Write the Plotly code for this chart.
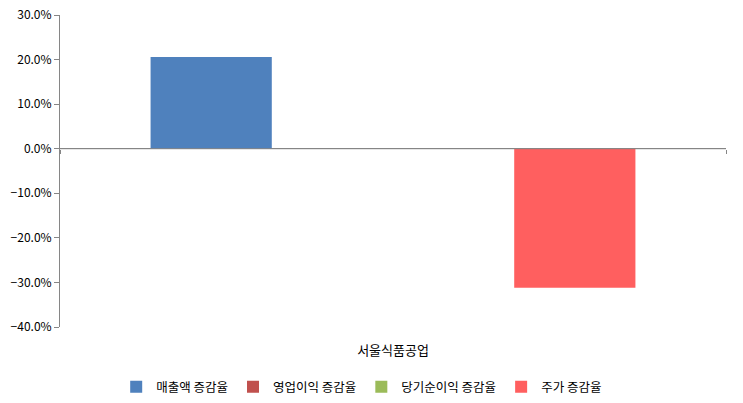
import plotly.graph_objects as go

categories = ["서울식품공업"]
series_names = ["매출액 증감율", "영업이익 증감율", "당기순이익 증감율", "주가 증감율"]
sales_growth = [0.206]
op_profit_growth = [0.0]
net_profit_growth = [0.0]
stock_growth = [-0.312]
colors = ["#4F81BD", "#C0504D", "#9BBB59", "#FF5F5F"]

font_kr = "Noto Sans CJK KR, Gulim, sans-serif"

fig = go.Figure()
for name, vals, col in zip(series_names,
                           [sales_growth, op_profit_growth, net_profit_growth, stock_growth],
                           colors):
    fig.add_trace(go.Bar(x=categories, y=vals, name=name,
                         marker=dict(color=col, line=dict(width=0))))

fig.update_layout(
    width=743, height=403,
    margin=dict(l=60, r=17, t=15, b=76, autoexpand=False),
    plot_bgcolor="white", paper_bgcolor="white",
    barmode="group", bargap=0.272, bargroupgap=0,
    font=dict(family=font_kr, size=12, color="#000000"),
    showlegend=True,
    legend=dict(orientation="h", x=0.453, xanchor="center", y=-0.145, yanchor="top",
                font=dict(size=12.5), itemwidth=30),
    xaxis=dict(showline=False, showgrid=False, ticks="outside", ticklen=11,
               tickcolor="rgba(0,0,0,0)", tickfont=dict(size=13), automargin=False),
    yaxis=dict(range=[-0.4, 0.3], dtick=0.1, tickformat=".1%",
               showgrid=False, showline=True, linecolor="#868686", linewidth=1,
               ticks="outside", ticklen=5, tickcolor="#868686",
               zeroline=True, zerolinecolor="#868686", zerolinewidth=1,
               tickfont=dict(size=12), automargin=False,
               ticklabeloverflow="allow"),
    # category boundary tick on the zero line
    xaxis2=dict(overlaying="x", anchor="free", position=4 / 7, range=[-0.5, 0.5],
                tickvals=[-0.5, 0.5], ticks="outside", ticklen=4, tickcolor="#868686",
                showticklabels=False, showgrid=False, zeroline=False, showline=False,
                automargin=False),
)
fig.add_trace(go.Scatter(x=[-0.5, 0.5], y=[0, 0], xaxis="x2", mode="lines",
                         line=dict(color="#868686", width=1), showlegend=False,
                         hoverinfo="skip"))

# drop the default 8px body margin so the figure fills the window
fig.write_html("out.html", config={"displayModeBar": False},
               post_script="document.body.style.margin='0';")
